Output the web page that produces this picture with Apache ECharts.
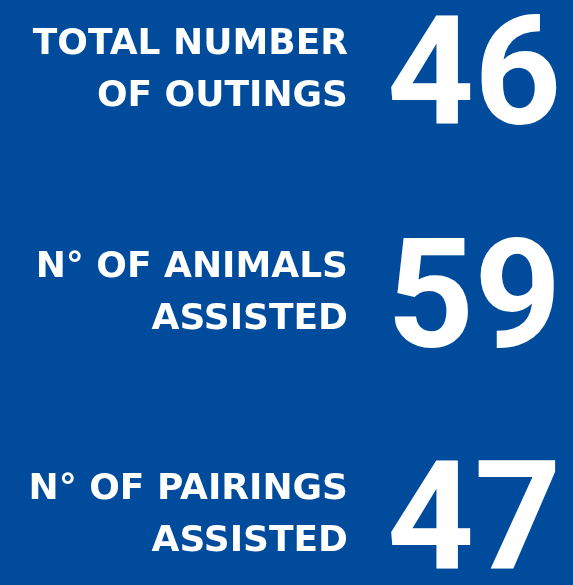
<!DOCTYPE html>
<html>
<head>
<meta charset="utf-8">
<script src="https://cdn.jsdelivr.net/npm/echarts@6/dist/echarts.min.js"></script>
<style>
  html, body { margin: 0; padding: 0; background: #004b9b; }
  #chart { width: 573px; height: 585px; }
</style>
</head>
<body>
<div id="chart"></div>
<script>
// 指标名称与数值
const labels = ['TOTAL NUMBER\nOF OUTINGS', 'N° OF ANIMALS\nASSISTED', 'N° OF PAIRINGS\nASSISTED'];
const values = [46, 59, 47];

const chart = echarts.init(document.getElementById('chart'));

const option = {
  backgroundColor: '#004b9b',
  grid: {
    left: 350,
    right: 0,
    top: 71,
    bottom: 69,
  },
  xAxis: {
    type: 'value',
    min: 0,
    max: 1,
    show: false,
  },
  yAxis: {
    type: 'category',
    inverse: true,
    boundaryGap: false,
    data: labels,
    axisLine: { show: false },
    axisTick: { show: false },
    splitLine: { show: false },
    axisLabel: {
      margin: 2,
      color: '#fff',
      fontFamily: 'DejaVu Sans',
      fontWeight: 'bold',
      fontSize: 36,
      lineHeight: 52,
      align: 'right',
    },
  },
  series: [
    {
      type: 'scatter',
      symbolSize: 0,
      silent: true,
      itemStyle: { opacity: 1 },
      data: labels.map((l, i) => [0, l, values[i]]),
      label: {
        show: true,
        position: 'right',
        distance: 37,
        offset: [0, 15],
        opacity: 1,
        formatter: (p) => p.value[2],
        color: '#ffffff',
        fontFamily: 'Roboto',
        fontWeight: 'bold',
        fontSize: 152,
      },
    },
  ],
  animation: false,
};

chart.setOption(option);
window.addEventListener('resize', chart.resize);
</script>
</body>
</html>
